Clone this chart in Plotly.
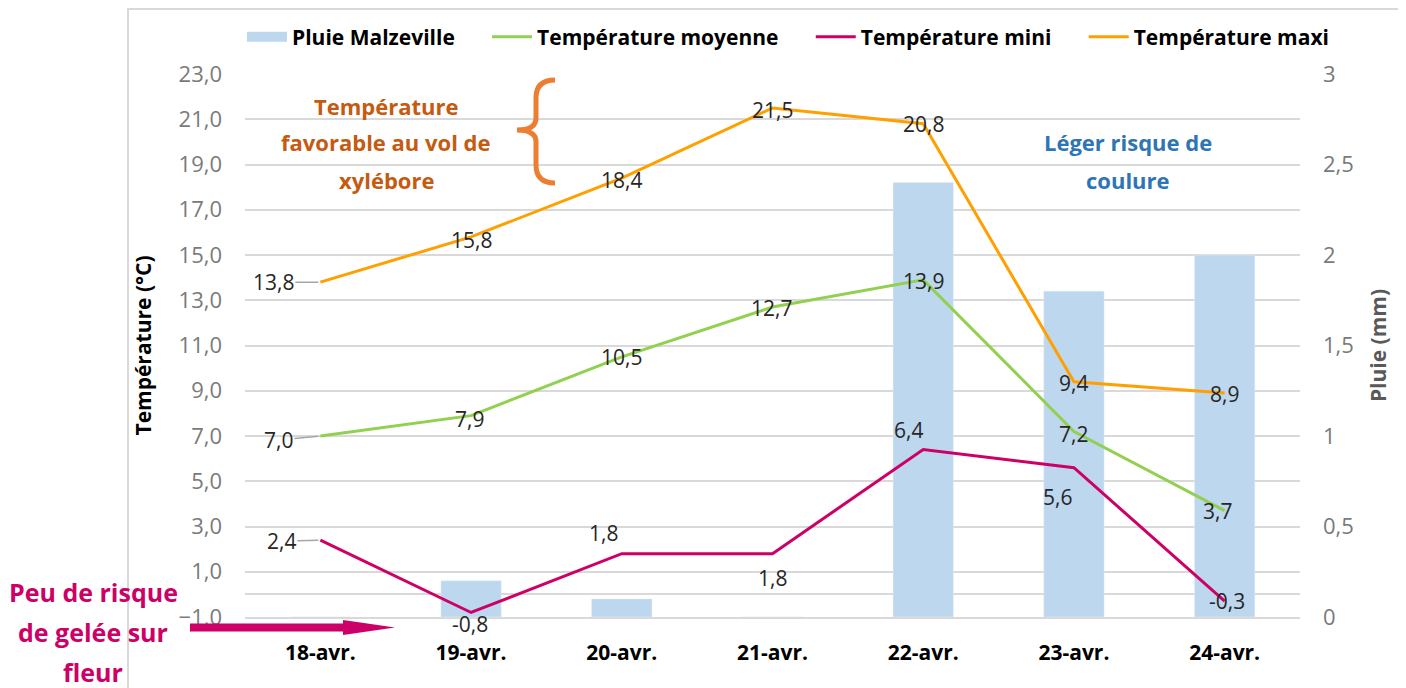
import plotly.graph_objects as go

# ---- data ----
days = ["18-avr.", "19-avr.", "20-avr.", "21-avr.", "22-avr.", "23-avr.", "24-avr."]
pluie = [0.0, 0.2, 0.1, 0.0, 2.4, 1.8, 2.0]
t_moy = [7.0, 7.9, 10.5, 12.7, 13.9, 7.2, 3.7]
t_min = [2.4, -0.8, 1.8, 1.8, 6.4, 5.6, -0.3]
t_max = [13.8, 15.8, 18.4, 21.5, 20.8, 9.4, 8.9]
temp_ticks = list(range(-1, 24, 2))
series_names = ["Pluie Malzeville", "Température moyenne", "Température mini", "Température maxi"]

# ---- styling ----
OFF = 8                      # page body margin in the browser
W, H = 1406 - OFF, 688 - OFF
L, R, T, B = 245 - OFF, 106, 74 - OFF, 71
FONT = "Open Sans"
C_BAR = "#bdd7ee"
C_MOY = "#92d050"
C_MIN = "#cc0066"
C_MAX = "#ffa000"
C_GRID = "#d9d9d9"
C_TICK = "#7a7a7a"
C_LBL = "#262626"
PAD = "\u00a0" * 5           # spacing between legend entries

def px(x):
    return (x - OFF - L) / (W - L - R)

def py(y):
    return (H - B - (y - OFF)) / (H - T - B)

def path(points, close=False):
    s = "M " + " L ".join(f"{px(a):.5f},{py(b):.5f}" for a, b in points)
    return s + (" Z" if close else "")

fig = go.Figure()
fig.add_trace(go.Bar(x=days, y=pluie, name=series_names[0], marker_color=C_BAR,
                     width=0.4, yaxis="y", showlegend=False, legendgroup="pluie"))
# legend entry for the bars, drawn as a wide swatch
fig.add_trace(go.Scatter(x=[days[0]], y=[None], name=series_names[0] + PAD, mode="lines",
                         line=dict(color=C_BAR, width=12), yaxis="y", legendgroup="pluie"))
fig.add_trace(go.Scatter(x=days, y=t_moy, name=series_names[1] + PAD, mode="lines",
                         line=dict(color=C_MOY, width=3), yaxis="y2"))
fig.add_trace(go.Scatter(x=days, y=t_min, name=series_names[2] + PAD, mode="lines",
                         line=dict(color=C_MIN, width=3), yaxis="y2"))
fig.add_trace(go.Scatter(x=days, y=t_max, name=series_names[3], mode="lines",
                         line=dict(color=C_MAX, width=3), yaxis="y2"))

# data labels (offsets in pixels: dx, dy with dy positive = up)
offs = {
    "max": [(-47, 0), (0, -3), (0, -2), (0, -2), (0, 0), (0, -1), (0, -1)],
    "moy": [(-42, -4), (-2, -3), (0, 0), (-1, -1), (0, -1), (0, -3), (-7, 0)],
    "min": [(-39, -1), (-1, -12), (-18, 21), (0, -24), (-15, 20), (-16, -29), (2, 0)],
}
annots = []
def fmt(v):
    return f"{v:.1f}".replace(".", ",")
for key, series in (("max", t_max), ("moy", t_moy), ("min", t_min)):
    for i, (d, v) in enumerate(zip(days, series)):
        dx, dy = offs[key][i]
        if i == 0:
            annots.append(dict(x=d, y=v, xref="x", yref="y2", text=fmt(v), showarrow=True,
                               arrowhead=0, arrowwidth=1.5, arrowcolor="#a6a6a6",
                               ax=dx, ay=-dy, standoff=2,
                               font=dict(family=FONT, size=21, color=C_LBL)))
        else:
            annots.append(dict(x=d, y=v, xref="x", yref="y2", text=fmt(v), showarrow=False,
                               xshift=dx, yshift=dy,
                               font=dict(family=FONT, size=21, color=C_LBL)))

def note(text, x, y, color, size=22):
    annots.append(dict(x=px(x), y=py(y), xref="paper", yref="paper", text=text,
                       showarrow=False, xanchor="center", yanchor="middle",
                       font=dict(family=FONT, size=size, color=color, weight="bold")))

for t, y in (("Température", 106), ("favorable au vol de", 142), ("xylébore", 180)):
    note(t, 386, y, "#c55a11")
for t, y in (("Léger risque de", 142), ("coulure", 180)):
    note(t, 1128, y, "#2e75b6")
for t, y in (("Peu de risque", 592), ("de gelée sur", 632), ("fleur", 672)):
    note(t, 93, y, C_MIN, size=25)

shapes = [
    # chart border (left and top)
    dict(type="path", xref="paper", yref="paper",
         path=path([(128, 700), (128, 9), (1420, 9)]),
         line=dict(color=C_GRID, width=2)),
    # brace
    dict(type="path", xref="paper", yref="paper",
         path=(f"M {px(555):.5f},{py(80):.5f} Q {px(536):.5f},{py(80):.5f} {px(536):.5f},{py(98):.5f} "
               f"L {px(536):.5f},{py(118):.5f} Q {px(536):.5f},{py(130):.5f} {px(517):.5f},{py(130):.5f} "
               f"Q {px(536):.5f},{py(130):.5f} {px(536):.5f},{py(142):.5f} "
               f"L {px(536):.5f},{py(165):.5f} Q {px(536):.5f},{py(183):.5f} {px(555):.5f},{py(183):.5f}"),
         line=dict(color="#ed7d31", width=5)),
    # arrow
    dict(type="path", xref="paper", yref="paper",
         path=path([(190, 623.5), (343, 623.5), (343, 620), (395, 627.5), (343, 635),
                    (343, 631.5), (190, 631.5)], close=True),
         fillcolor=C_MIN, line=dict(color=C_MIN, width=0)),
]

fig.update_layout(
    width=W, height=H,
    margin=dict(l=L, r=R, t=T, b=B, autoexpand=False),
    paper_bgcolor="white", plot_bgcolor="white",
    separators=", ",
    font=dict(family=FONT, size=21, color=C_TICK),
    showlegend=True,
    legend=dict(orientation="h", x=px(242), xanchor="left", y=py(37),
                yanchor="middle", font=dict(family=FONT, size=21, color="black", weight="bold"),
                traceorder="normal", itemwidth=40),
    xaxis=dict(showgrid=False, showline=True, linecolor=C_GRID, linewidth=2,
               tickfont=dict(family=FONT, size=21, color="black", weight="bold"),
               ticks="", ticklabelstandoff=16),
    yaxis=dict(title=dict(text="Pluie (mm)", font=dict(family=FONT, size=21, color="#595959",
                                                      weight="bold"), standoff=18),
               side="right", range=[0, 3], dtick=0.5, showgrid=False, zeroline=False,
               tickfont=dict(family=FONT, size=22, color=C_TICK), ticks="",
               ticklabelstandoff=22),
    yaxis2=dict(title=dict(text="Température (°C)", font=dict(family=FONT, size=21, color="black",
                                                             weight="bold"), standoff=21),
                side="left", overlaying="y", range=[-1, 23], tickvals=temp_ticks,
                tickformat=".1f", showgrid=True, gridcolor=C_GRID, gridwidth=2,
                zeroline=True, zerolinecolor=C_GRID, zerolinewidth=2,
                tickfont=dict(family=FONT, size=22, color=C_TICK), ticks="",
                ticklabelstandoff=22),
    annotations=annots,
    shapes=shapes,
    bargap=0.6,
)

fig.write_html("out.html")
